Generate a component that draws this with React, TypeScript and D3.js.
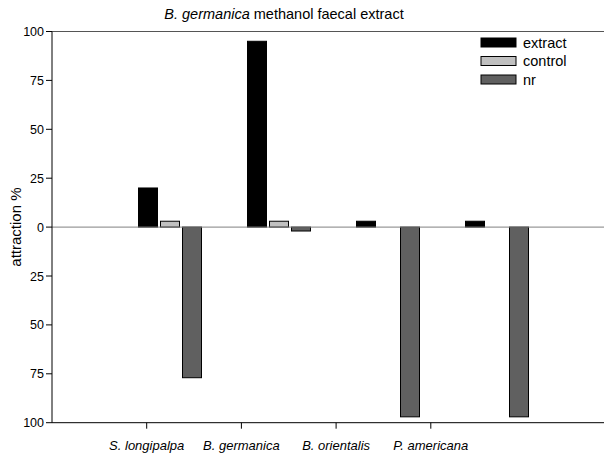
import React from "react";
import * as d3 from "d3";

const categories = ["S. longipalpa", "B. germanica", "B. orientalis", "P. americana"];
const seriesNames = ["extract", "control", "nr"];
const extractValues = [20, 95, 3, 3];
const controlValues = [3, 3, 0, 0];
const nrValues = [-77, -2, -97, -97];
const yTickValues = [-100, -75, -50, -25, 0, 25, 50, 75, 100];

const W = 604;
const H = 454;
const colors: Record<string, string> = { extract: "#000000", control: "#c0c0c0", nr: "#606060" };
const FONT = "'Liberation Sans', Arial, sans-serif";

export default function App() {
  const left = 52;
  const top = 31.5;
  const bottom = 422.7;
  const y = d3.scaleLinear().domain([-100, 100]).range([bottom, top]);
  const xBars = d3.scaleBand<string>().domain(categories).range([115.5, 551.5]);
  const xSub = d3.scaleBand<string>().domain(seriesNames).range([-31.5, 31.5]).paddingInner(3 / 22).paddingOuter(0);
  const xTicks = d3.scalePoint<string>().domain(categories).range([left, left + 94.7 * 5]).padding(1);

  const seriesData: Record<string, number[]> = { extract: extractValues, control: controlValues, nr: nrValues };

  return (
    <svg width={W} height={H} style={{ position: "absolute", left: 0, top: 0, background: "#fff" }} fontFamily={FONT}>
      <rect x={0} y={0} width={W} height={H} fill="#fff" />
      {/* title */}
      <text x={284} y={19} textAnchor="middle" fontSize={14.5} fill="#000">
        <tspan fontStyle="italic">B. germanica</tspan>
        <tspan> methanol faecal extract</tspan>
      </text>
      {/* bars */}
      {categories.map((c, i) => {
        const cx = (xBars(c) as number) + xBars.bandwidth() / 2;
        return seriesNames.map((s) => {
          const v = seriesData[s][i];
          if (v === 0) return null;
          const x0 = cx + (xSub(s) as number);
          const y0 = Math.min(y(v), y(0));
          const h = Math.abs(y(v) - y(0));
          return (
            <rect key={c + s} x={x0} y={y0} width={xSub.bandwidth()} height={h} fill={colors[s]} stroke="#000" strokeWidth={1} />
          );
        });
      })}
      {/* zero line */}
      <line x1={left} x2={W} y1={y(0)} y2={y(0)} stroke="#808080" strokeWidth={1} />
      {/* top frame */}
      <line x1={left} x2={W} y1={top} y2={top} stroke="#555" strokeWidth={1} />
      {/* left axis */}
      <line x1={left} x2={left} y1={top} y2={bottom} stroke="#000" strokeWidth={1} />
      {yTickValues.map((t) => (
        <g key={t}>
          <line x1={left - 6} x2={left} y1={y(t)} y2={y(t)} stroke="#000" strokeWidth={1} />
          <text x={left - 8} y={y(t) + 4.5} textAnchor="end" fontSize={12.5} fill="#000">
            {Math.abs(t)}
          </text>
        </g>
      ))}
      {/* bottom axis */}
      <line x1={left} x2={W} y1={bottom} y2={bottom} stroke="#000" strokeWidth={1} />
      {categories.map((c) => (
        <g key={c}>
          <line x1={xTicks(c)} x2={xTicks(c)} y1={bottom} y2={bottom + 6} stroke="#000" strokeWidth={1} />
          <text x={xTicks(c)} y={450} textAnchor="middle" fontSize={13} fontStyle="italic" fill="#000">
            {c}
          </text>
        </g>
      ))}
      {/* y label */}
      <text transform={`translate(21, ${y(0)}) rotate(-90)`} textAnchor="middle" fontSize={15} fill="#000">
        attraction %
      </text>
      {/* legend */}
      {seriesNames.map((s, i) => (
        <g key={s}>
          <rect x={481} y={38 + i * 18.5} width={35} height={9} fill={colors[s]} stroke="#000" strokeWidth={1} />
          <text x={523} y={47.5 + i * 18.5} fontSize={14.5} fill="#000">
            {s}
          </text>
        </g>
      ))}
    </svg>
  );
}
